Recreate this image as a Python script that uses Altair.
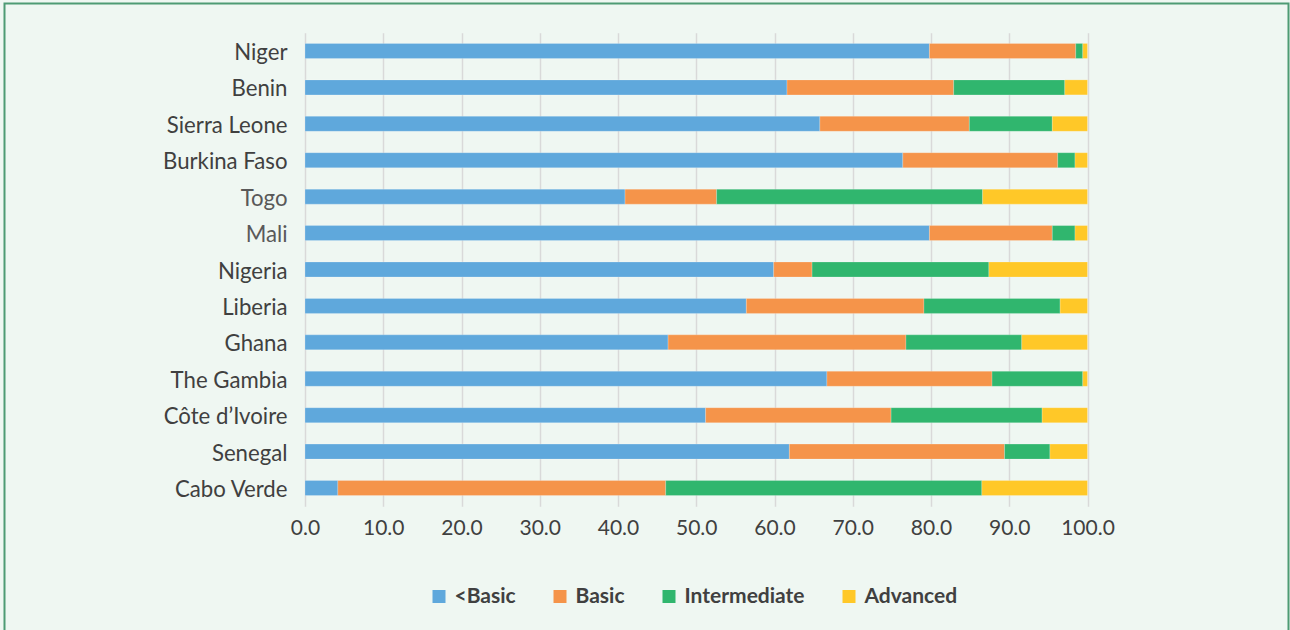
import altair as alt
import pandas as pd

# Share of students by proficiency level (%)
countries = [
    "Niger", "Benin", "Sierra Leone", "Burkina Faso", "Togo", "Mali",
    "Nigeria", "Liberia", "Ghana", "The Gambia", "Côte d’Ivoire",
    "Senegal", "Cabo Verde",
]
levels = ["<Basic", "Basic", "Intermediate", "Advanced"]
below_basic = [79.8, 61.6, 65.8, 76.4, 40.9, 79.8, 59.9, 56.4, 46.4, 66.7, 51.2, 61.9, 4.2]
basic = [18.7, 21.3, 19.1, 19.8, 11.7, 15.7, 4.9, 22.7, 30.4, 21.1, 23.7, 27.5, 41.9]
intermediate = [0.9, 14.2, 10.6, 2.2, 34.0, 2.9, 22.6, 17.4, 14.8, 11.6, 19.3, 5.8, 40.4]
advanced = [0.6, 2.9, 4.5, 1.6, 13.4, 1.6, 12.6, 3.5, 8.4, 0.6, 5.8, 4.8, 13.5]
x_ticks = [0, 10, 20, 30, 40, 50, 60, 70, 80, 90, 100]

colors = ["#5FA8DC", "#F5944A", "#30B66E", "#FFC828"]
FONT = "Lato"
TEXT = "#404040"

rows = []
for series_idx, (level, vals) in enumerate(
    zip(levels, [below_basic, basic, intermediate, advanced])
):
    for country, v in zip(countries, vals):
        rows.append({"country": country, "level": level, "order": series_idx, "value": v})
df = pd.DataFrame(rows)

PLOT_W = 782.5
PLOT_H = 473.5
LEFT = 305
TOP = 32.75

bars = (
    alt.Chart(df)
    .mark_bar(size=15, stroke="#ffffff", strokeOpacity=0.35, strokeWidth=0.6)
    .encode(
        x=alt.X(
            "value:Q",
            stack="zero",
            scale=alt.Scale(domain=[0, 100], nice=False),
            axis=alt.Axis(
                title=None,
                values=x_ticks,
                format=".1f",
                grid=True,
                gridColor="#D9D9D9",
                gridWidth=1.5,
                domain=False,
                ticks=False,
                labelFlush=False,
                labelPadding=11,
                labelFontSize=21,
                labelFont=FONT,
                labelColor=TEXT,
            ),
        ),
        y=alt.Y(
            "country:N",
            sort=countries,
            scale=alt.Scale(paddingInner=0, paddingOuter=0),
            axis=alt.Axis(
                title=None,
                domain=False,
                ticks=False,
                grid=False,
                labelPadding=18,
                labelOffset=2,
                labelFontSize=22.2,
                labelFont=FONT,
                labelColor={
                    "condition": {
                        "test": "datum.value === 'Togo' || datum.value === 'Mali'",
                        "value": "#595959",
                    },
                    "value": TEXT,
                },
            ),
        ),
        color=alt.Color(
            "level:N",
            sort=levels,
            scale=alt.Scale(domain=levels, range=colors),
            legend=alt.Legend(
                title=None,
                orient="none",
                legendX=123.5,
                legendY=553,
                direction="horizontal",
                columns=4,
                columnPadding=33,
                padding=0,
                symbolType="square",
                symbolSize=169,
                symbolStrokeWidth=0,
                labelOffset=5,
                labelFontSize=21,
                labelFont=FONT,
                labelFontWeight="bold",
                labelColor=TEXT,
            ),
        ),
        order=alt.Order("order:Q", sort="ascending"),
    )
)

# Outer frame around the whole figure
frame = (
    alt.Chart(pd.DataFrame({"k": [0]}))
    .mark_rect(filled=False, stroke="#4E9B74", strokeWidth=2)
    .encode(
        x=alt.value(4.5 - LEFT),
        x2=alt.value(1288.5 - LEFT),
        y=alt.value(3.5 - TOP),
        y2=alt.value(700),
    )
)

chart = (
    alt.layer(bars, frame)
    .properties(
        width=PLOT_W,
        height=PLOT_H,
        autosize=alt.AutoSizeParams(type="none"),
        padding={
            "left": LEFT,
            "top": TOP,
            "right": 1290 - LEFT - PLOT_W,
            "bottom": 630 - TOP - PLOT_H,
        },
        background="#EFF7F2",
    )
    .configure_view(stroke=None)
)

chart.save("out.html", embed_options={"renderer": "svg", "actions": False})
